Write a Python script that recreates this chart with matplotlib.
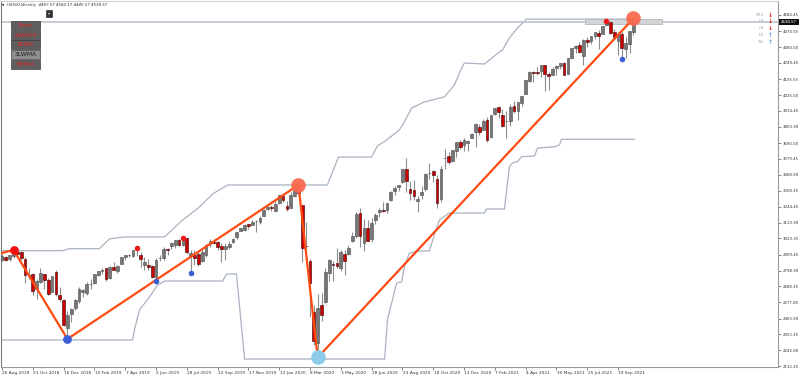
import matplotlib
matplotlib.use("Agg")
import matplotlib.pyplot as plt
import matplotlib.patches as mpatches
import matplotlib.transforms as mtransforms
import numpy as np
import pandas as pd

# ---------------- data ----------------
first_week = "2018-08-26"

opens = [2876, 2897, 2879, 2903, 2926, 2926, 2882, 2763, 2773, 2670, 2721, 2775, 2731, 2650, 2790, 2630, 2590, 2400, 2498,
         2535, 2585, 2651, 2644, 2706, 2712, 2769, 2798, 2814, 2747, 2823, 2797, 2848, 2893, 2908, 2898, 2940, 2908, 2840,
         2841, 2831, 2751, 2886, 2886, 2951, 2971, 2979, 3013, 2978, 3025, 2898, 2907, 2913, 2866, 2910, 2988, 2996, 2999,
         2968, 2952, 2965, 2996, 3035, 3078, 3081, 3123, 3117, 3144, 3141, 3183, 3226, 3240,
         3217, 3271, 3321, 3248, 3236, 3319, 3378, 3257, 2974, 2863, 2508, 2290, 2558, 2578, 2782, 2845, 2854, 2815, 2915,
         2913, 3004, 3038, 3199, 2994, 3094, 3018, 3155, 3205, 3224, 3219, 3289, 3356, 3380, 3419, 3509, 3371, 3363, 3285,
         3326, 3368, 3478, 3493, 3441, 3296, 3583, 3600, 3566, 3634, 3694, 3675, 3693, 3723,
         3764, 3803, 3781, 3851, 3732, 3892, 3939, 3885, 3842, 3844, 3950, 3916, 3969, 4034, 4124, 4183, 4185, 4191, 4233,
         4169, 4168, 4216, 4230, 4248, 4174, 4284, 4356, 4372, 4296, 4410, 4406, 4438, 4461, 4450, 4513, 4535, 4469, 4402,
         4450, 4348, 4385, 4467.57]
highs = [2916, 2900, 2906, 2941, 2940, 2939, 2894, 2816, 2779, 2742, 2815, 2775, 2746, 2760, 2800, 2685, 2601, 2520, 2539,
         2597, 2681, 2672, 2716, 2738, 2775, 2794, 2814, 2816, 2830, 2860, 2836, 2894, 2911, 2917, 2940, 2955, 2932, 2892,
         2877, 2841, 2885, 2911, 2964, 2959, 2996, 3014, 3018, 3028, 3029, 2945, 2943, 2940, 2940, 2985, 3021, 3022, 3007,
         2993, 2993, 3008, 3027, 3067, 3097, 3121, 3127, 3154, 3150, 3183, 3226, 3247, 3258,
         3282, 3329, 3337, 3285, 3348, 3385, 3397, 3260, 3137, 2883, 2562, 2637, 2641, 2819, 2880, 2869, 2954, 2945, 2945,
         2981, 3068, 3211, 3233, 3156, 3155, 3165, 3200, 3236, 3280, 3272, 3352, 3387, 3399, 3509, 3588, 3425, 3429, 3320,
         3393, 3482, 3549, 3502, 3464, 3529, 3646, 3628, 3644, 3699, 3712, 3726, 3711, 3760,
         3827, 3823, 3861, 3871, 3887, 3937, 3950, 3928, 3915, 3960, 3983, 3975, 4020, 4130, 4191, 4195, 4219, 4238, 4236,
         4187, 4219, 4234, 4249, 4258, 4287, 4356, 4372, 4393, 4415, 4430, 4440, 4468, 4479, 4511, 4546, 4536, 4486, 4465,
         4466, 4429, 4476, 4560.17]
lows = [2864, 2864, 2869, 2886, 2903, 2874, 2710, 2737, 2628, 2603, 2714, 2670, 2631, 2649, 2621, 2583, 2409, 2317, 2443,
        2524, 2570, 2612, 2631, 2671, 2705, 2764, 2775, 2723, 2739, 2800, 2785, 2848, 2870, 2891, 2896, 2900, 2825, 2801,
        2805, 2750, 2728, 2864, 2874, 2910, 2952, 2960, 2970, 2973, 2914, 2780, 2840, 2834, 2856, 2892, 2964, 2985, 2945,
        2856, 2874, 2952, 2993, 3023, 3075, 3078, 3091, 3115, 3070, 3127, 3180, 3224, 3212,
        3214, 3264, 3281, 3214, 3235, 3316, 3328, 2856, 2902, 2478, 2280, 2190, 2447, 2575, 2727, 2727, 2820, 2797, 2767,
        2910, 2996, 3025, 2965, 2934, 3004, 3000, 3127, 3172, 3207, 3200, 3285, 3324, 3354, 3411, 3349, 3293, 3292, 3209,
        3297, 3354, 3440, 3419, 3233, 3279, 3512, 3545, 3558, 3594, 3645, 3633, 3636, 3723,
        3663, 3749, 3780, 3694, 3725, 3885, 3865, 3805, 3723, 3806, 3901, 3853, 3949, 4034, 4114, 4118, 4166, 4152, 4056,
        4061, 4166, 4168, 4207, 4164, 4174, 4279, 4321, 4321, 4233, 4360, 4383, 4420, 4347, 4450, 4509, 4454, 4427, 4305,
        4278, 4283, 4322, 4445.57]
closes = [2902, 2872, 2905, 2930, 2914, 2886, 2767, 2768, 2659, 2723, 2781, 2736, 2633, 2760, 2633, 2600, 2417, 2486, 2532,
          2596, 2671, 2665, 2707, 2708, 2775, 2793, 2804, 2743, 2822, 2800, 2834, 2893, 2907, 2905, 2940, 2946, 2881, 2860,
          2826, 2752, 2873, 2887, 2950, 2942, 2990, 3014, 2977, 3026, 2932, 2919, 2889, 2847, 2926, 2979, 3007, 2992, 2962,
          2953, 2970, 2986, 3023, 3067, 3093, 3120, 3110, 3141, 3146, 3169, 3221, 3240, 3235,
          3265, 3329, 3295, 3226, 3328, 3380, 3338, 2954, 2972, 2711, 2305, 2541, 2489, 2790, 2875, 2837, 2831, 2930, 2864,
          2955, 3044, 3194, 3041, 3098, 3009, 3130, 3185, 3225, 3216, 3271, 3351, 3373, 3397, 3508, 3427, 3341, 3319, 3298,
          3348, 3477, 3484, 3465, 3270, 3509, 3585, 3558, 3638, 3699, 3663, 3709, 3703, 3756,
          3825, 3768, 3841, 3714, 3887, 3934, 3907, 3811, 3842, 3943, 3913, 3975, 4020, 4129, 4185, 4180, 4181, 4233, 4174,
          4156, 4204, 4230, 4247, 4166, 4281, 4352, 4369, 4327, 4412, 4395, 4436, 4468, 4441, 4509, 4535, 4459, 4433, 4455,
          4357, 4391, 4471, 4538.57]

# zigzag turning points (bar index, price)
zigzag_idx = [-20, 3, 17, 77, 82, 164]
zigzag_val = [2790, 2942, 2321, 3397, 2192, 4560.17]

# fractal markers (bar indices)
fractal_up_idx = [35, 47, 157]
fractal_dn_idx = [40, 49, 161]

# channel lines (bar index, price)
upper_idx = [-0.65, 15.7, 17.5, 25.3, 27.9, 31.8, 42.2, 46.9, 51.3, 54.7, 58.6, 84.5, 87.4, 96.0, 97.5, 99.9,
             103.2, 104.5, 106.4, 109.7, 114.9, 117.5, 118.8, 120.1, 125.3, 126.6, 129.2, 130.0, 131.8, 133.9,
             136.2, 164.3]
upper_val = [2938, 2938, 2952, 2952, 3020, 3034, 3034, 3152, 3243, 3334, 3397, 3397, 3592, 3592, 3669, 3711,
             3781, 3837, 3935, 3977, 4012, 4095, 4179, 4249, 4242, 4270, 4326, 4340, 4424, 4494,
             4556, 4556]
lower_idx = [-0.65, 33.9, 34.4, 35.7, 38.3, 40.4, 42.2, 57.3, 58.3, 60.9, 63.0, 99.4, 100.1, 102.5, 103.8, 104.5,
             105.8, 107.9, 111.0, 112.3, 113.6, 116.2, 125.3, 125.8, 130.5, 131.8, 132.6, 133.9, 135.0, 138.3,
             139.1, 143.5, 144.8, 145.3, 164.3]
lower_val = [2314, 2314, 2384, 2524, 2614, 2698, 2726, 2726, 2775, 2775, 2181, 2181, 2454, 2712, 2721, 2826,
             2920, 2936, 2936, 3048, 3152, 3201, 3201, 3229, 3229, 3525, 3551, 3560, 3595, 3599,
             3655, 3664, 3676, 3716, 3716]

# grey zone box (bar index range, price range)
zone_idx = [151.4, 171.4]
zone_val = [4522, 4557]

bid_price = 4538.57
y_ticks = [4584.45, 4470.55, 4360.00, 4249.45, 4135.55, 4025.00, 3914.45, 3803.90, 3690.00, 3579.45, 3468.90,
           3358.35, 3244.45, 3133.90, 3023.35, 2909.45, 2798.90, 2688.35, 2577.80, 2463.90, 2353.35, 2242.80, 2132.25]
x_tick_idx = list(range(0, 161, 8))

header = "US500,Weekly  4467.57 4560.17 4445.57 4538.57"
buttons = ["Pivot", "LWMA9", "3EMA", "3LWMA", "EMMA"]
tf_labels = ["M15", "H1", "H4", "D1", "W1"]
tf_dir = ["down", "down", "down", "up", "up"]

# ---------------- figure ----------------
W, H = 800, 378
fig = plt.figure(figsize=(W / 100, H / 100), dpi=100)
fig.patch.set_facecolor("white")

def fx(px):
    return px / W

def fy(py):
    return 1 - py / H

ax_l, ax_r, ax_t, ax_b = 1, 778, 1, 367
ax = fig.add_axes([fx(ax_l), fy(ax_b), (ax_r - ax_l) / W, (ax_b - ax_t) / H])
ax.set_facecolor("white")

o = np.array(opens, float)
h = np.array(highs, float)
l = np.array(lows, float)
c = np.array(closes, float)
xi = np.arange(len(o))
dates = pd.date_range(first_week, periods=len(o), freq="7D")

# channel lines
ax.plot(upper_idx, upper_val, color="#a9b3c0", lw=0.9, zorder=1)
ax.plot(lower_idx, lower_val, color="#a9b3c0", lw=0.9, zorder=1)

# bid line and zone
ax.axhline(bid_price, color="#c5cbd2", lw=1.4, zorder=1)
ax.add_patch(mpatches.Rectangle((zone_idx[0], zone_val[0]), zone_idx[1] - zone_idx[0], zone_val[1] - zone_val[0],
                                facecolor="#d2d4d6", edgecolor="#b5b8bb", lw=0.6, zorder=1.5))

# candles
bull = c >= o
ax.vlines(xi, l, h, color="#8e8e8e", lw=0.8, zorder=2)
ax.bar(xi[bull], (c - o)[bull], bottom=o[bull], width=0.72, color="#777777",
       edgecolor="#4a4a4a", lw=0.4, zorder=3)
ax.bar(xi[~bull], (o - c)[~bull], bottom=c[~bull], width=0.72, color="#cc0000",
       edgecolor="#3a0000", lw=0.4, zorder=3)

# zigzag
ax.plot(zigzag_idx, zigzag_val, color="#ff4a10", lw=1.6, zorder=4, solid_capstyle="round")

# zigzag points
ax.scatter([zigzag_idx[1]], [zigzag_val[1]], s=40, color="#f21010", zorder=5, linewidths=0)
ax.scatter([zigzag_idx[2]], [zigzag_val[2]], s=40, color="#3a5fd8", zorder=5, linewidths=0)
ax.scatter([zigzag_idx[3], zigzag_idx[5]], [zigzag_val[3], zigzag_val[5]], s=110, color="#fa6a50",
           alpha=0.95, zorder=5, linewidths=0)
ax.scatter([zigzag_idx[4]], [zigzag_val[4]], s=110, color="#8ccbea", zorder=5, linewidths=0)

# fractals
ax.scatter(fractal_up_idx, h[fractal_up_idx], s=16, color="#ee1a1a", zorder=5, linewidths=0)
ax.scatter(fractal_dn_idx, l[fractal_dn_idx], s=16, color="#3a5fd8", zorder=5, linewidths=0)

# axes ranges
pitch = 3.85
x0 = 2.0
ax.set_xlim((ax_l - x0) / pitch, (ax_r - x0) / pitch)
ppx = 6.986
ax.set_ylim(4584.45 - (ax_b - 15) * ppx, 4584.45 + (15 - ax_t) * ppx)

# y axis right
ax.yaxis.tick_right()
ax.set_yticks(y_ticks)
ax.set_yticklabels([f"{v:.2f}" for v in y_ticks])
ax.tick_params(axis="y", direction="out", length=2, width=0.5, labelsize=2.8, pad=1.5,
               colors="#555555", labelcolor="#333333")

# x axis
ax.set_xticks(x_tick_idx)
ax.set_xticklabels([f"{dates[i].day} {dates[i].strftime('%b %Y')}" for i in x_tick_idx])
ax.tick_params(axis="x", direction="out", length=2, width=0.5, labelsize=3.1, pad=1,
               colors="#555555", labelcolor="#333333")
offset = mtransforms.ScaledTranslation(0.5 / 100, 0, fig.dpi_scale_trans)
for lbl in ax.get_xticklabels():
    lbl.set_ha("left")
    lbl.set_transform(lbl.get_transform() + offset)

for side, col in [("left", "#7a7a7a"), ("bottom", "#9a9a9a"), ("right", "#9a9a9a"), ("top", "#d0d0d0")]:
    ax.spines[side].set_color(col)
    ax.spines[side].set_linewidth(0.8)

# bid price label on axis
fig.patches.append(mpatches.Rectangle((fx(778.5), fy(24.6)), 20 / W, 5.4 / H, transform=fig.transFigure,
                                      facecolor="#111111", edgecolor="none", zorder=10))
fig.text(fx(788.5), fy(22), f"{bid_price:.2f}", fontsize=2.8, color="white", ha="center", va="center", zorder=11)

# header
fig.text(fx(1.5), fy(5.2), "▼", fontsize=2.2, color="#222222", va="center")
fig.text(fx(7), fy(5.2), header, fontsize=2.9, style="italic", color="#333333", va="center")
fig.patches.append(mpatches.Rectangle((fx(46), fy(17)), 6 / W, 7 / H, transform=fig.transFigure,
                                      facecolor="#333333", edgecolor="#1a1a1a", lw=0.4))
fig.text(fx(49), fy(13.5), "▾", fontsize=3, color="#dddddd", ha="center", va="center")

# buttons
btn_tops = [21, 31, 40, 50, 60]
for name, top in zip(buttons, btn_tops):
    light = name == "3LWMA"
    fig.patches.append(mpatches.Rectangle((fx(11), fy(top + 8.6)), 29 / W, 8.6 / H, transform=fig.transFigure,
                                          facecolor="#8e8e8e" if light else "#5e5e5e",
                                          edgecolor="#3c3c3c", lw=0.5))
    fig.text(fx(25.5), fy(top + 4.5), name, fontsize=4.4, ha="center", va="center",
             color="#202020" if light else "#e02424")

# timeframe labels
tf_y = [15, 21.5, 28.3, 35.2, 42.2]
for name, yy, d in zip(tf_labels, tf_y, tf_dir):
    fig.text(fx(764), fy(yy), name, fontsize=2.7, color="#9aa6b8", ha="right", va="center")
    fig.text(fx(770.5), fy(yy), "↓" if d == "down" else "↑", fontsize=4.5, fontweight="bold",
             color="#e8231d" if d == "down" else "#6a9be0", ha="center", va="center")

fig.savefig("out.png", dpi=100)
